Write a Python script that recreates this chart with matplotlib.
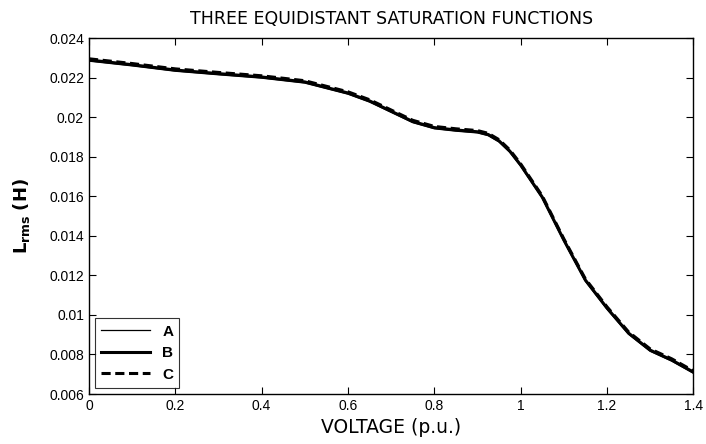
import numpy as np
import matplotlib
matplotlib.use("Agg")
import matplotlib.pyplot as plt

# Values
voltage_pu = [0.0, 0.1, 0.2, 0.3, 0.4, 0.5, 0.6, 0.65, 0.7, 0.75, 0.8, 0.85, 0.9,
              0.925, 0.95, 0.975, 1.0, 1.05, 1.1, 1.15, 1.2, 1.25, 1.3, 1.35, 1.4]
lrms_B = [0.02289, 0.02265, 0.02238, 0.02220, 0.02203, 0.02178, 0.02122, 0.02082,
          0.02030, 0.01978, 0.01947, 0.01935, 0.01926, 0.01912, 0.01880, 0.01828,
          0.01758, 0.01596, 0.01379, 0.01176, 0.01035, 0.00908, 0.00822, 0.00772,
          0.00711]
offset_A = -0.00006
offset_C = 0.00006
lrms_A = [v + offset_A for v in lrms_B]
lrms_C = [v + offset_C for v in lrms_B]

xticks = [0, 0.2, 0.4, 0.6, 0.8, 1, 1.2, 1.4]
xticklabels = ["0", "0.2", "0.4", "0.6", "0.8", "1", "1.2", "1.4"]
yticks = [0.006, 0.008, 0.010, 0.012, 0.014, 0.016, 0.018, 0.020, 0.022, 0.024]
yticklabels = ["0.006", "0.008", "0.01", "0.012", "0.014", "0.016", "0.018",
               "0.02", "0.022", "0.024"]

plt.rcParams['font.family'] = ['Liberation Sans', 'DejaVu Sans']

fig = plt.figure(figsize=(7.06, 4.44), dpi=100)
ax = fig.add_axes([0.126, 0.1126, 0.856, 0.8018])

ax.plot(voltage_pu, lrms_A, color="black", linewidth=0.9, label="A")
ax.plot(voltage_pu, lrms_B, color="black", linewidth=2.2, label="B")
ax.plot(voltage_pu, lrms_C, color="black", linewidth=2.2, linestyle=(0, (3, 1.5)), label="C")

ax.set_xlim(0, 1.4)
ax.set_ylim(0.006, 0.024)
ax.set_xticks(xticks)
ax.set_xticklabels(xticklabels)
ax.set_yticks(yticks)
ax.set_yticklabels(yticklabels)
ax.tick_params(direction="in", top=True, right=True, labelsize=10, length=5)
for s in ax.spines.values():
    s.set_linewidth(1.0)

ax.set_title("THREE EQUIDISTANT SATURATION FUNCTIONS", fontsize=12.5, pad=10,
             family="DejaVu Sans")
ax.set_xlabel("VOLTAGE (p.u.)", fontsize=13.5, labelpad=4, family="DejaVu Sans")
ax.set_ylabel(r"$\mathbf{L_{rms}}$ $\mathbf{(H)}$", fontsize=13, labelpad=12)

leg = ax.legend(loc="lower left", frameon=True, fancybox=False,
                edgecolor="black", handlelength=3.2, borderaxespad=0.4,
                prop={"weight": "bold", "size": 11})
leg.get_frame().set_linewidth(0.8)

fig.savefig("out.png", dpi=100)
